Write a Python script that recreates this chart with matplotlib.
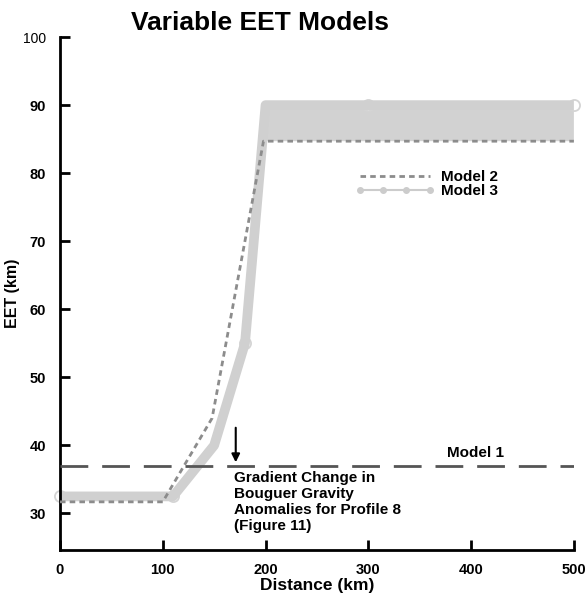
import numpy as np
import matplotlib
matplotlib.use("Agg")
import matplotlib.pyplot as plt
from matplotlib.lines import Line2D

plt.rcParams['font.family'] = ['Liberation Sans', 'DejaVu Sans']
plt.rcParams['font.weight'] = 'bold'

# data
model1_y = 37.0

model2_x = [0, 100, 148, 198, 500]
model2_y = [31.7, 31.7, 44.0, 84.7, 84.7]

model3_x = [0, 110, 150, 180, 200, 300, 500]
model3_y = [32.5, 32.5, 40.0, 55.0, 90.0, 90.0, 90.0]
model3_marks = [0, 1, 3, 5, 6]

yticks = [30, 40, 50, 60, 70, 80, 90, 100]
xticks = [0, 100, 200, 300, 400, 500]

fig = plt.figure(figsize=(5.88, 5.98), dpi=100)
ax = fig.add_axes([0.102, 0.080, 0.874, 0.858])

# shaded band between model 2 and model 3
m2_on_m3 = np.interp(model3_x, model2_x, model2_y)
ax.fill_between(model3_x, m2_on_m3, model3_y, where=np.array(model3_y) >= m2_on_m3,
                interpolate=True, color='#d2d2d2', lw=0, zorder=1)

ax.plot(model3_x, model3_y, color='#d0d0d0', lw=7, solid_capstyle='butt', zorder=2)
ax.plot(np.array(model3_x)[model3_marks], np.array(model3_y)[model3_marks], 'o',
        ms=8, mfc='white', mec='#d4d4d4', mew=1.3, zorder=1.5, clip_on=False)
ax.plot(model2_x, model2_y, color='#8c8c8c', lw=2, ls=(0, (2, 1.5)), zorder=4)
ax.axhline(model1_y, color='#555555', lw=2, ls=(0, (10, 5)), zorder=4)

ax.text(377, 37.9, 'Model 1', fontsize=11, fontweight='bold', ha='left', va='bottom')
ax.annotate('', xy=(171, 37.1), xytext=(171, 43.0),
            arrowprops=dict(arrowstyle='-|>', color='black', lw=1.5, mutation_scale=12))
ax.text(169, 36.3, 'Gradient Change in\nBouguer Gravity\nAnomalies for Profile 8\n(Figure 11)',
        fontsize=11, fontweight='bold', ha='left', va='top', linespacing=1.2)

handles = [Line2D([], [], color='#8c8c8c', lw=2, ls=(0, (2, 1.5))),
           Line2D([], [], color='#cccccc', lw=1.5, marker='o', ms=4)]
ax.legend(handles, ['Model 2', 'Model 3'], loc='upper left', bbox_to_anchor=(0.574, 0.741),
          frameon=False, fontsize=11, handlelength=5.2, handletextpad=0.45,
          labelspacing=0.0, borderpad=0, borderaxespad=0, numpoints=4, handleheight=0.6)

ax.set_xlim(0, 500)
ax.set_ylim(24.6, 100)
ax.set_xticks(xticks)
ax.set_yticks(yticks)
ax.set_xticklabels([str(t) for t in xticks], fontsize=10.5, fontweight='bold')
ylabels = ax.set_yticklabels([str(t) for t in yticks], fontsize=10.5, fontweight='bold')
ylabels[-1].set_fontsize(10)
ylabels[-1].set_fontweight('normal')
ax.tick_params(direction='in', length=7, width=2)
ax.tick_params(axis='y', pad=10)
ax.tick_params(axis='x', pad=9)
for s in ['top', 'right']:
    ax.spines[s].set_visible(False)
for s in ['left', 'bottom']:
    ax.spines[s].set_linewidth(2)

ax.set_xlabel('Distance (km)', fontsize=12.5, fontweight='bold', labelpad=1)
ax.set_ylabel('EET (km)', fontsize=11.5, fontweight='bold', labelpad=2)
fig.text(0.442, 0.962, 'Variable EET Models', fontsize=19, fontweight='bold', ha='center', va='center')

fig.savefig('out.png', dpi=100)
